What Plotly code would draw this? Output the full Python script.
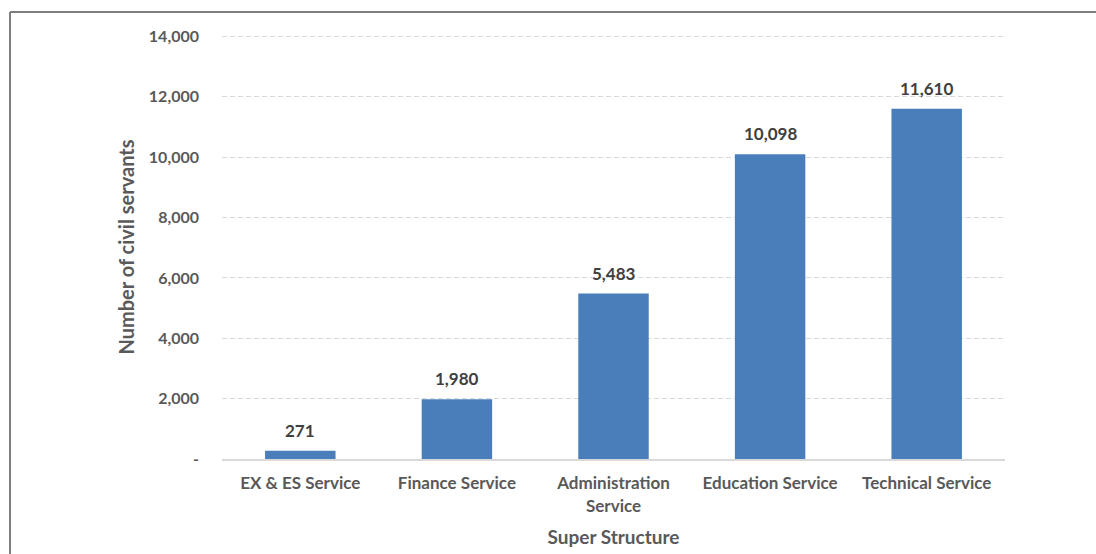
import plotly.graph_objects as go

categories = ["EX & ES Service", "Finance Service", "Administration<br>Service",
              "Education Service", "Technical Service"]
values = [271, 1980, 5483, 10098, 11610]
tick_vals = [0, 2000, 4000, 6000, 8000, 10000, 12000, 14000]
tick_text = ["-", "2,000", "4,000", "6,000", "8,000", "10,000", "12,000", "14,000"]

W, H = 1096, 554
L, R, T, B = 222, 91, 35, 95
pw, ph = W - L - R, H - T - B

FONT = "Lato"
GREY = "#595959"

fig = go.Figure(go.Bar(
    x=categories, y=values,
    marker=dict(color="#4a7ebb", line=dict(width=0)),
    cliponaxis=False,
))

for c, v in zip(categories, values):
    fig.add_annotation(x=c, y=v, text=f"{v:,}", showarrow=False,
                       yanchor="bottom", yshift=8,
                       font=dict(family=FONT, size=17, color="#404040", weight="bold"))

fig.update_layout(
    width=W, height=H,
    margin=dict(l=L, r=R, t=T, b=B, autoexpand=False),
    paper_bgcolor="white", plot_bgcolor="white",
    bargap=0.55,
    showlegend=False,
    font=dict(family=FONT, color=GREY),
    xaxis=dict(
        automargin=False,
        showgrid=False, showline=True, linecolor="#d9d9d9", linewidth=2,
        ticks="", ticklabelstandoff=8,
        tickfont=dict(family=FONT, size=17, color=GREY, weight="bold"),
        title=dict(text="Super Structure", standoff=16,
                   font=dict(family=FONT, size=19, color=GREY, weight="bold")),
    ),
    yaxis=dict(
        automargin=False,
        range=[0, 14050], tickvals=tick_vals, ticktext=tick_text,
        showgrid=True, gridcolor="#d9d9d9", griddash="5px,3px", gridwidth=1,
        zeroline=False, showline=False, ticks="",
        ticklabelstandoff=22,
        tickfont=dict(family=FONT, size=16, color=GREY, weight="bold"),
        title=dict(text="Number of civil servants", standoff=8,
                   font=dict(family=FONT, size=20, color=GREY, weight="bold")),
    ),
    shapes=[
        dict(type="line", xref="paper", yref="paper",
             x0=(10 - L) / pw, x1=(W + 5 - L) / pw,
             y0=(H - B - 12) / ph, y1=(H - B - 12) / ph,
             line=dict(color="#7f7f7f", width=2)),
        dict(type="line", xref="paper", yref="paper",
             x0=(10 - L) / pw, x1=(10 - L) / pw,
             y0=(H - B - 12) / ph, y1=-(B + 5) / ph,
             line=dict(color="#7f7f7f", width=2)),
    ],
)

fig.write_html("out.html", config={"displayModeBar": False},
               post_script="document.body.style.margin='0';document.body.style.overflow='hidden';")
